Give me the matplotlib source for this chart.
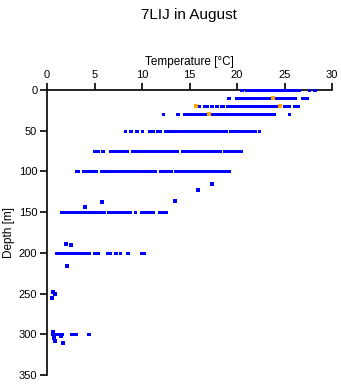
import matplotlib
matplotlib.use('Agg')
import matplotlib.pyplot as plt

plt.rcParams['font.family'] = ['Liberation Sans', 'DejaVu Sans']

# runs of densely packed observations at each sampled depth: (T start, T end) in degC
runs_0 = [(20.3, 20.6), (20.8, 26.6), (27.5, 27.65), (28.0, 28.3)]
runs_10 = [(18.95, 19.2), (19.75, 26.25), (26.7, 27.5)]
runs_20 = [(15.9, 16.1), (16.4, 16.95), (17.1, 17.5), (17.65, 18.0), (18.2, 18.6),
           (18.8, 23.1), (23.2, 24.3), (24.8, 25.2), (25.4, 25.6), (25.9, 26.1), (26.25, 26.5)]
runs_30 = [(12.05, 12.3), (13.6, 13.9), (14.3, 24.0), (25.4, 25.6)]
runs_50 = [(8.1, 8.35), (8.6, 8.9), (9.3, 9.6), (9.9, 10.1), (10.6, 11.3), (11.5, 12.0),
           (12.3, 18.9), (19.1, 20.9), (21.0, 22.0), (22.2, 22.4)]
runs_75 = [(4.85, 5.1), (5.25, 5.5), (5.7, 5.95), (6.5, 6.9), (7.0, 8.5), (8.8, 13.3),
           (13.35, 13.8), (14.1, 18.35), (18.55, 19.9), (20.0, 20.55)]
runs_100 = [(2.9, 3.4), (3.7, 5.3), (5.55, 6.05), (6.2, 8.9), (9.05, 11.5), (11.75, 13.2),
            (13.35, 18.2), (18.35, 19.3)]
runs_150 = [(1.34, 5.0), (5.2, 6.1), (6.3, 8.4), (8.5, 8.8), (9.15, 9.4), (9.75, 11.3),
            (11.7, 12.6)]
runs_200 = [(0.8, 2.55), (2.65, 4.5), (4.85, 5.45), (6.2, 6.7), (7.0, 7.4), (7.55, 7.8),
            (8.3, 8.6), (9.8, 10.3)]
runs_300 = [(0.45, 1.7), (2.4, 3.1), (4.2, 4.55)]

run_depths = [0, 10, 20, 30, 50, 75, 100, 150, 200, 300]
run_lists = [runs_0, runs_10, runs_20, runs_30, runs_50, runs_75, runs_100,
             runs_150, runs_200, runs_300]

# isolated observations
single_temp = [4.0, 5.8, 13.45, 15.9, 17.4, 1.97, 2.55, 2.1,
               0.6, 0.8, 0.5, 0.6, 0.7, 0.8, 1.5, 1.7]
single_depth = [143.5, 137, 136, 123, 115, 188.7, 190, 216,
                248, 251, 256, 297, 305, 308, 302, 311]

# highlighted (orange) observations
hl_temp = [23.8, 15.65, 24.5, 17.05]
hl_depth = [10, 20, 20, 30]

blue = '#0000ff'
orange = '#ffa500'

fig = plt.figure(figsize=(3.41, 3.84), dpi=100)
ax = fig.add_axes([0.138, 0.0234, 0.836, 0.7422])

for d, runs in zip(run_depths, run_lists):
    for t0, t1 in runs:
        ax.hlines(d, t0, t1, colors=blue, linewidth=1.9, antialiased=False,
                  zorder=5, clip_on=False)
ax.plot(single_temp, single_depth, 's', color=blue, markersize=2.2,
        markeredgewidth=0, antialiased=False, zorder=5)
ax.plot(hl_temp, hl_depth, 's', color=orange, markersize=2.4,
        markeredgewidth=0, antialiased=False, zorder=6)

ax.set_xlim(0, 30)
ax.set_ylim(350, 0)
ax.set_xticks(range(0, 31, 5))
ax.set_yticks(range(0, 351, 50))
ax.xaxis.tick_top()
ax.xaxis.set_label_position('top')
ax.spines['right'].set_visible(False)
ax.spines['bottom'].set_visible(False)
for s in ('top', 'left'):
    ax.spines[s].set_linewidth(1.2)
ax.tick_params(axis='both', length=5, width=1.2, labelsize=8, pad=2)
ax.set_xlabel('Temperature [°C]', fontsize=8.5, labelpad=4)
ax.set_ylabel('Depth [m]', fontsize=8.5, labelpad=3)

fig.text(0.555, 0.961, '7LIJ in August', ha='center', va='center', fontsize=11)

plt.savefig('out.png', dpi=100)
